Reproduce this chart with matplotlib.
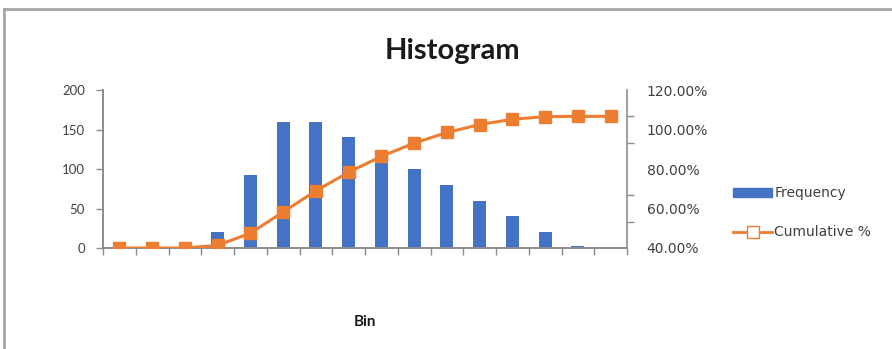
import matplotlib.pyplot as plt
import numpy as np
from matplotlib.lines import Line2D
from matplotlib.patches import Patch
from matplotlib.ticker import FixedLocator, FixedFormatter, NullFormatter

plt.rcParams['font.family'] = ['Lato', 'DejaVu Sans']

# frequency per bin (16 bins, no bin labels shown)
bins = np.arange(16)
frequency = [0, 0, 0, 20, 92, 160, 160, 140, 120, 100, 80, 60, 40, 20, 2, 0]
cumulative = np.cumsum(frequency) / np.sum(frequency)

# right axis labels
pct_labels = ['40.00%', '60.00%', '80.00%', '100.00%', '120.00%']

bar_c = '#4472C4'
line_c = '#ED7D31'
axis_c = '#8C8C8C'
text_c = '#404040'

fig = plt.figure(figsize=(8.92, 3.49), dpi=100)
ax = fig.add_axes([0.1155, 0.2894, 0.5875, 0.4527])
ax2 = ax.twinx()

ax.bar(bins, frequency, width=0.4, color=bar_c, zorder=2)
ax2.plot(bins, cumulative, color=line_c, lw=2.2, marker='s', ms=9,
         mfc=line_c, mec=line_c, zorder=3)

ax.set_xlim(-0.5, 15.5)
ax.set_ylim(0, 200)
ax2.set_ylim(0, 1.2)

ax.set_yticks([0, 50, 100, 150, 200])
ax.xaxis.set_major_locator(FixedLocator([]))
ax.xaxis.set_minor_locator(FixedLocator(np.arange(-0.5, 16, 1)))
ax.xaxis.set_minor_formatter(NullFormatter())
ax.tick_params(axis='x', which='minor', length=5, color=axis_c, width=1)
ax.tick_params(axis='y', length=5, color=axis_c, width=1, labelsize=9.5,
               labelcolor=text_c, pad=8)

# labels sit evenly, tick marks every 20%
ax2.yaxis.set_major_locator(FixedLocator([0, 0.3, 0.6, 0.9, 1.2]))
ax2.yaxis.set_major_formatter(FixedFormatter(pct_labels))
ax2.yaxis.set_minor_locator(FixedLocator(np.arange(0, 1.21, 0.2)))
ax2.tick_params(axis='y', which='major', length=0, labelsize=10,
                labelcolor=text_c, pad=14)
ax2.tick_params(axis='y', which='minor', length=5, color=axis_c, width=1)
for lbl in ax2.get_yticklabels():
    lbl.set_family('DejaVu Sans')

for a in (ax, ax2):
    a.spines['top'].set_visible(False)
    for s in ('left', 'right', 'bottom'):
        a.spines[s].set_color(axis_c)
        a.spines[s].set_linewidth(1.2)
ax.spines['right'].set_visible(False)

fig.text(0.4095, 1 - 322 / 349, 'Bin', ha='center', va='center',
         fontsize=11, fontweight='bold', color='#1a1a1a')
fig.text(0.507, 0.855, 'Histogram', ha='center', va='center',
         fontsize=21, fontweight='bold', color='#1a1a1a')

handles = [Patch(facecolor=bar_c, edgecolor=bar_c),
           Line2D([0], [0], color=line_c, lw=2, marker='s', ms=8,
                  mfc='white', mec=line_c)]
fig.legend(handles, ['Frequency', 'Cumulative %'], loc='center left',
           bbox_to_anchor=(0.808, 0.39), frameon=False,
           prop={'family': 'DejaVu Sans', 'size': 10},
           handlelength=2.8, handletextpad=0.15, labelspacing=1.8,
           labelcolor=text_c)

# outer frame (top and left edges)
fig.add_artist(Line2D([0.004, 1.0], [0.973, 0.973], color='#A6A6A6', lw=2,
                      transform=fig.transFigure))
fig.add_artist(Line2D([0.0045, 0.0045], [0.0, 0.973], color='#A6A6A6', lw=2,
                      transform=fig.transFigure))

fig.savefig('out.png', dpi=100)
